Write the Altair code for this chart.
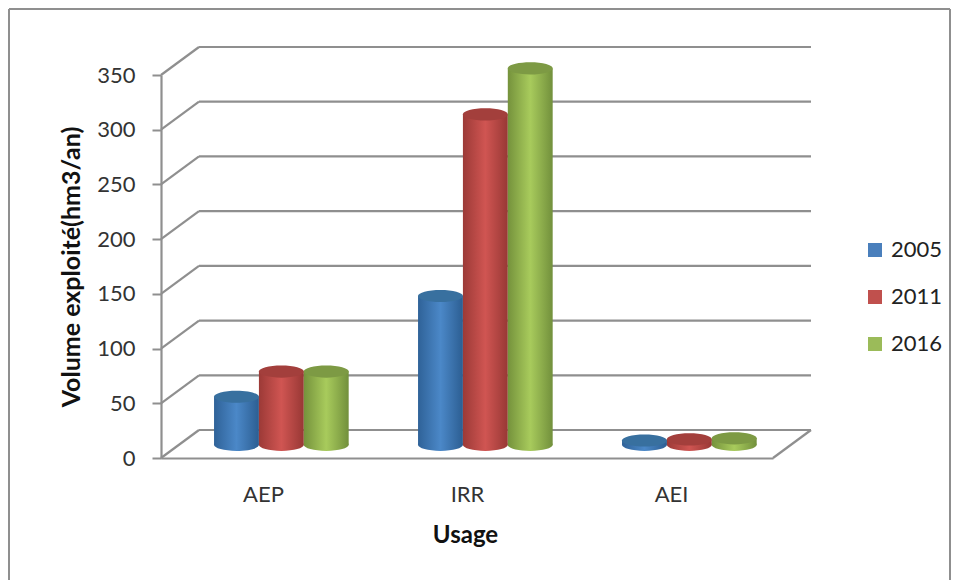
import altair as alt
import pandas as pd

categories = ["AEP", "IRR", "AEI"]
years = ["2005", "2011", "2016"]
values = {
    "2005": [44, 136, 4],
    "2011": [67, 302, 5],
    "2016": [67, 344, 6],
}
top_colors = ["#38709f", "#a33f3c", "#7d9a44"]
legend_colors = ["#4a7fbc", "#c0504d", "#9bbb59"]
gradients = {
    "2005": ["#2f6298", "#4b88c8", "#2c5e92"],
    "2011": ["#9c3a37", "#d05552", "#983835"],
    "2016": ["#75923c", "#a8cb5c", "#72903c"],
}
grid_values = [0, 50, 100, 150, 200, 250, 300, 350]

DX = 38 / 204          # depth of the 3D box, category units
DY = 28 / 1.0943       # depth of the 3D box, value units
BASE = 12              # floor height of the cylinder base, value units
OFFSETS = [-0.22, 0.0, 0.22]
HALF = 0.11
SHIFT = 0.59
GREY = "#8f8f8f"
FONT = "Lato"
H = 572

x_scale = alt.Scale(domain=[0, 3], range=[153, 765], nice=False, zero=False)
y_scale = alt.Scale(domain=[0, 350], range=[450, 67], nice=False, zero=False)

rows = []
for v in grid_values:
    rows.append({"x": DX, "x2": 3 + DX, "y": v + DY, "y2": v + DY})
    rows.append({"x": 0, "x2": DX, "y": v, "y2": v + DY})
rows.append({"x": 3, "x2": 3 + DX, "y": 0, "y2": DY})
grid_df = pd.DataFrame(rows)

grid = alt.Chart(grid_df).mark_rule(color=GREY, strokeWidth=2.2).encode(
    x=alt.X("x:Q", scale=x_scale,
            axis=alt.Axis(values=[0.5, 1.5, 2.5],
                          labelExpr="['AEP','IRR','AEI'][floor(datum.value)]",
                          title="Usage", titleFont=FONT, titleFontSize=24,
                          titleFontWeight="bold", titleColor="#111111", titleX=457,
                          labelFont=FONT, labelFontSize=22, labelColor="#333333",
                          labelPadding=26, ticks=False, grid=False,
                          domainColor=GREY, domainWidth=2.2,
                          offset=450 - H, titlePadding=18)),
    x2="x2:Q",
    y=alt.Y("y:Q", scale=y_scale,
            axis=alt.Axis(values=grid_values, title="Volume exploité(hm3/an)",
                          titleFont=FONT, titleFontSize=25, titleFontWeight="bold",
                          titleColor="#111111",
                          labelFont=FONT, labelFontSize=22, labelColor="#333333",
                          labelPadding=17, tickColor=GREY, tickWidth=2, tickSize=9,
                          domainColor=GREY, domainWidth=2.2, grid=False,
                          offset=-153, titlePadding=12)),
    y2="y2:Q",
)

layers = [grid]
ELLIPSE = "M -1 0 A 1 0.27 0 1 1 1 0 A 1 0.27 0 1 1 -1 0 Z"
for s, year in enumerate(years):
    df = pd.DataFrame({
        "cat": categories,
        "year": year,
        "cx": [i + SHIFT + OFFSETS[s] for i in range(3)],
        "v": values[year],
    })
    df["left"] = df["cx"] - HALF
    df["right"] = df["cx"] + HALF
    df["base"] = BASE
    df["top"] = df["v"] + BASE
    c0, c1, c2 = gradients[year]
    grad = alt.Gradient(gradient="linear", x1=0, x2=1, y1=0, y2=0, stops=[
        alt.GradientStop(color=c0, offset=0),
        alt.GradientStop(color=c1, offset=0.5),
        alt.GradientStop(color=c2, offset=1),
    ])
    base_chart = alt.Chart(df)
    bottom = base_chart.mark_point(shape=ELLIPSE, filled=True, size=2025, fill=grad, opacity=1, strokeWidth=0).encode(
        x=alt.X("cx:Q", scale=x_scale), y=alt.Y("base:Q", scale=y_scale))
    body = base_chart.mark_rect(fill=grad).encode(
        x=alt.X("left:Q", scale=x_scale), x2="right:Q",
        y=alt.Y("base:Q", scale=y_scale), y2="top:Q")
    top = base_chart.mark_point(shape=ELLIPSE, filled=True, size=2025, opacity=1, strokeWidth=0).encode(
        x=alt.X("cx:Q", scale=x_scale), y=alt.Y("top:Q", scale=y_scale),
        fill=alt.value(top_colors[s]))
    layers += [bottom, body, top]

legend_df = pd.DataFrame({"year": years, "px": [0.0] * 3})
legend_layer = alt.Chart(legend_df).mark_square(size=0, opacity=0).encode(
    color=alt.Color("year:N", scale=alt.Scale(domain=years, range=legend_colors),
                    legend=alt.Legend(title=None, orient="none", legendX=856, legendY=231,
                                      symbolType="square", symbolSize=196, symbolOpacity=1,
                                      symbolStrokeWidth=0,
                                      labelFont=FONT, labelFontSize=22, labelColor="#222222",
                                      rowPadding=25, labelOffset=5)),
    x=alt.value(0), y=alt.value(0),
)
layers.append(legend_layer)

one = legend_df.head(1)
left = alt.Chart(one).mark_rule(color=GREY, strokeWidth=2).encode(
    x=alt.value(1), y=alt.value(1), y2=alt.value(H))
right = alt.Chart(one).mark_rule(color=GREY, strokeWidth=2).encode(
    x=alt.value(942), y=alt.value(1), y2=alt.value(H))
topline = alt.Chart(one).mark_rule(color=GREY, strokeWidth=2).encode(
    y=alt.value(1), x=alt.value(1), x2=alt.value(942))
layers += [left, right, topline]

chart = alt.layer(*layers).properties(
    width=943, height=H, padding=0, autosize=alt.AutoSizeParams(type="none"),
    background="white",
).configure_view(stroke=None)

chart.save("out.html", embed_options={"renderer": "svg", "actions": False})
